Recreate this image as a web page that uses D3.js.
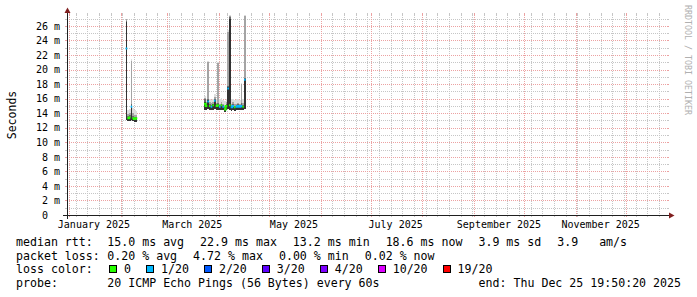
<!DOCTYPE html>
<html>
<head>
<meta charset="utf-8">
<script src="https://cdn.jsdelivr.net/npm/d3@7"></script>
<style>
  html, body { margin: 0; padding: 0; background: #fff; }
  svg { display: block; }
  text { font-family: "DejaVu Sans Mono", monospace; white-space: pre; }
</style>
</head>
<body>
<svg id="chart" width="697" height="297"></svg>
<script>
// graph window (smokeping "last 360 days")
const endTime = "2025-12-25T19:50:20";
const spanDays = 360;
const yMax = 27.5;                       // ms
const yTicks = d3.range(0, 27, 2);       // labelled every 2 ms
const yMinorTicks = d3.range(1, 28, 2);

// per-day samples: median rtt (ms), lost pings of 20, smoke bands (ms)
const days = [
  "2025-02-04", "2025-02-05", "2025-02-06", "2025-02-07", "2025-02-08", "2025-02-09", "2025-02-10",
  "2025-03-23", "2025-03-24", "2025-03-25", "2025-03-26", "2025-03-27", "2025-03-28", "2025-03-29",
  "2025-03-30", "2025-03-31", "2025-04-01", "2025-04-02", "2025-04-03", "2025-04-04", "2025-04-05",
  "2025-04-06", "2025-04-07", "2025-04-08", "2025-04-09", "2025-04-10", "2025-04-11", "2025-04-12",
  "2025-04-13", "2025-04-14", "2025-04-15", "2025-04-16"
];
const median = [
  22.9, 13.3, 13.4, 14.9, 13.3, 13.2, 13.3,
  15.3, 15.0, 15.6, 15.0, 14.9, 15.1, 15.7,
  15.0, 15.1, 14.9, 15.1, 14.9, 14.5, 15.0,
  17.4, 15.1, 14.8, 15.0, 14.8, 14.9, 15.0,
  14.9, 15.0, 14.9, 18.6
];
const loss = [
  1, 0, 0, 1, 0, 0, 0,
  0, 0, 1, 0, 1, 0, 1,
  0, 0, 1, 0, 1, 0, 0,
  1, 0, 1, 1, 0, 1, 1,
  1, 1, 0, 1
];
const smokeLo = [
  13.1, 12.9, 12.9, 13.0, 12.9, 12.8, 12.8,
  14.5, 14.5, 14.6, 14.5, 14.4, 14.5, 14.6,
  14.5, 14.5, 14.4, 14.5, 14.4, 14.2, 14.4,
  14.6, 14.5, 14.3, 14.4, 14.3, 14.4, 14.4,
  14.4, 14.4, 14.4, 14.6
];
// upper edge of each smoke band, outermost (lightest) first
const smoke1 = [
  27.0, 14.5, 14.6, 21.4, 14.7, 14.4, 14.3,
  16.3, 16.0, 21.2, 15.9, 15.8, 16.0, 16.6,
  15.9, 21.1, 15.9, 16.1, 15.8, 15.7, 16.0,
  25.4, 27.5, 15.9, 16.0, 15.8, 15.9, 16.0,
  15.8, 18.2, 16.0, 27.5
];
const smoke2 = [
  26.9, 13.9, 14.0, 21.2, 14.0, 13.8, 13.8,
  16.1, 15.6, 21.0, 15.5, 15.4, 15.5, 16.2,
  15.4, 20.9, 15.3, 15.5, 15.3, 15.0, 15.5,
  25.2, 27.4, 15.3, 15.5, 15.3, 15.3, 15.4,
  15.3, 18.0, 15.4, 27.3
];
const smoke3 = [
  26.7, 13.6, 13.7, 15.2, 13.6, 13.5, 13.5,
  15.9, 15.3, 16.0, 15.2, 15.1, 15.3, 15.9,
  15.2, 15.4, 15.1, 15.3, 15.1, 14.8, 15.2,
  17.8, 27.2, 15.0, 15.2, 15.0, 15.1, 15.2,
  15.1, 15.4, 15.1, 18.9
];
const smoke4 = [
  26.5, 13.4, 13.5, 15.0, 13.4, 13.3, 13.35,
  15.6, 15.1, 15.8, 15.1, 15.0, 15.2, 15.8,
  15.1, 15.2, 15.0, 15.2, 15.0, 14.6, 15.1,
  17.6, 27.0, 14.9, 15.1, 14.9, 15.0, 15.1,
  15.0, 15.1, 15.0, 18.7
];
const smokeGreys = ["#dddddd", "#a4a4a4", "#6b6b6b", "#323232"];

// loss colour legend
const lossLevels = [0, 1, 2, 3, 4, 10, 19];
const lossNames = ["0", "1/20", "2/20", "3/20", "4/20", "10/20", "19/20"];
const lossColors = ["#26ff00", "#00b8ff", "#0059ff", "#5e00ff", "#7e00ff", "#dd00ff", "#ff0000"];

// legend texts
const rttStats = ["15.0 ms avg", "22.9 ms max", "13.2 ms min", "18.6 ms now", "3.9 ms sd", "3.9   am/s"];
const lossStats = ["0.20 % avg", "4.72 % max", "0.00 % min", "0.02 % now"];
const probeText = "20 ICMP Echo Pings (56 Bytes) every 60s";
const endText = "end: Thu Dec 25 19:50:20 2025";

// layout
const x0 = 67, x1 = 667, yBottom = 215, yTop = 15;
const gridColor = "#c6c6c6", mgridColor = "#eca2a2";
const axisColor = "#1f1f1f", arrowColor = "#801f1f";

const svg = d3.select("#chart");
const parseTime = d3.utcParse("%Y-%m-%dT%H:%M:%S");
const parseDay = d3.utcParse("%Y-%m-%d");
const tEnd = parseTime(endTime);
const tStart = d3.utcDay.offset(tEnd, -spanDays);

const x = d3.scaleUtc().domain([tStart, tEnd]).range([x0, x1]);
const y = d3.scaleLinear().domain([0, yMax]).range([yBottom, yTop]);
const px = v => Math.round(v) + 0.5;

svg.append("rect").attr("width", 697).attr("height", 297).attr("fill", "#fff");

// ---- grid ----
const grid = svg.append("g").attr("shape-rendering", "crispEdges").attr("stroke-width", 1);

function hLine(v, color) {
  const yy = px(y(v));
  grid.append("line").attr("x1", x0 - 2).attr("x2", x0).attr("y1", yy).attr("y2", yy).attr("stroke", color);
  grid.append("line").attr("x1", x1).attr("x2", x1 + 2).attr("y1", yy).attr("y2", yy).attr("stroke", color);
  grid.append("line").attr("x1", x0).attr("x2", x1).attr("y1", yy).attr("y2", yy)
    .attr("stroke", color).attr("stroke-dasharray", "1,1");
}
function vLine(t, color) {
  const xx = px(x(t));
  grid.append("line").attr("x1", xx).attr("x2", xx).attr("y1", yTop - 2).attr("y2", yTop).attr("stroke", color);
  grid.append("line").attr("x1", xx).attr("x2", xx).attr("y1", yBottom).attr("y2", yBottom + 2).attr("stroke", color);
  grid.append("line").attr("x1", xx).attr("x2", xx).attr("y1", yTop).attr("y2", yBottom)
    .attr("stroke", color).attr("stroke-dasharray", "1,1");
}

const months = d3.utcMonth.range(tStart, tEnd);
const monthKeys = new Set(months.map(m => +m));
d3.utcSunday.range(tStart, tEnd).filter(s => !monthKeys.has(+s)).forEach(s => vLine(s, gridColor));
yMinorTicks.forEach(v => hLine(v, gridColor));
months.forEach(m => vLine(m, mgridColor));
yTicks.filter(v => v > 0).forEach(v => hLine(v, mgridColor));

// ---- smoke ----
const points = days.map((d, i) => ({
  t: parseDay(d), m: median[i], loss: loss[i], lo: smokeLo[i],
  bands: [smoke1[i], smoke2[i], smoke3[i], smoke4[i]]
}));

const smoke = svg.append("g").attr("shape-rendering", "crispEdges");
smokeGreys.forEach((grey, k) => {
  smoke.selectAll(null)
    .data(points)
    .join("rect")
    .attr("x", d => x(d.t))
    .attr("width", d => x(d3.utcDay.offset(d.t, 1)) - x(d.t))
    .attr("y", d => y(d.bands[k]))
    .attr("height", d => y(d.lo) - y(d.bands[k]))
    .attr("fill", grey);
});

// ---- median, coloured by loss ----
const medianLine = d3.line()
  .defined(v => v !== null)
  .x(v => x(v[0]))
  .y(v => y(v[1]));

lossLevels.forEach((lv, li) => {
  const verts = [];
  points.forEach((p, i) => {
    if (p.loss !== lv) { verts.push(null); return; }
    const prev = points[i - 1];
    if (!prev || prev.loss !== lv || +d3.utcDay.offset(prev.t, 1) !== +p.t) verts.push(null);
    verts.push([p.t, p.m], [d3.utcDay.offset(p.t, 1), p.m]);
  });
  if (!verts.some(v => v)) return;
  svg.append("path")
    .attr("d", medianLine(verts))
    .attr("fill", "none")
    .attr("stroke", lossColors[li])
    .attr("stroke-width", 2);
});

// ---- axes ----
const axisG = svg.append("g").attr("shape-rendering", "crispEdges");
axisG.append("line").attr("x1", x0 - 4).attr("x2", x1 + 4)
  .attr("y1", yBottom + 0.5).attr("y2", yBottom + 0.5).attr("stroke", axisColor);
axisG.append("line").attr("x1", x0 + 0.5).attr("x2", x0 + 0.5)
  .attr("y1", yBottom + 4).attr("y2", yTop - 4).attr("stroke", axisColor);

svg.append("path")
  .attr("d", `M${x1 + 2},${yBottom + 3.5}L${x1 + 2},${yBottom - 2.5}L${x1 + 7.5},${yBottom + 0.5}Z`)
  .attr("fill", arrowColor);
svg.append("path")
  .attr("d", `M${x0 - 2.5},${yTop - 2}L${x0 + 3.5},${yTop - 2}L${x0 + 0.5},${yTop - 7.5}Z`)
  .attr("fill", arrowColor);

const yAxis = d3.axisLeft(y)
  .tickValues(yTicks)
  .tickSize(0)
  .tickPadding(7)
  .tickFormat(v => v === 0 ? "0  " : `${v} m`);
svg.append("g")
  .attr("transform", `translate(${x0},0)`)
  .call(yAxis)
  .call(g => g.select(".domain").remove())
  .attr("font-family", "DejaVu Sans Mono")
  .attr("font-size", 10)
  .selectAll("text").attr("fill", "#000");

const labelMonths = d3.utcMonth.every(2).range(tStart, tEnd);
const xAxis = d3.axisBottom(x)
  .tickValues(labelMonths)
  .tickSize(0)
  .tickPadding(6)
  .tickFormat(d3.utcFormat("%B %Y"));
svg.append("g")
  .attr("transform", `translate(0,${yBottom})`)
  .call(xAxis)
  .call(g => g.select(".domain").remove())
  .attr("font-family", "DejaVu Sans Mono")
  .attr("font-size", 10)
  .selectAll("text")
  .attr("fill", "#000")
  .attr("x", d => x(d3.utcDay.offset(d, 15)) - x(d) - 0.5);

// axis title and watermark
svg.append("text")
  .attr("transform", `translate(15.5,${(yTop + yBottom) / 2}) rotate(-90)`)
  .attr("text-anchor", "middle")
  .attr("font-size", 11.5)
  .attr("fill", "#000")
  .text("Seconds");

svg.append("text")
  .attr("transform", "translate(684.5,5) rotate(90)")
  .attr("font-size", 8.3)
  .attr("fill", "#b0b0b0")
  .text("RRDTOOL / TOBI OETIKER");

// ---- legend ----
const legend = svg.append("g").attr("font-size", 11.6).attr("fill", "#000");
const legendX = 16, valueX = 107.3, gap = 16;
const rowY = [245.7, 259.5, 273.3, 287.2];

function textRow(label, items, yy) {
  legend.append("text").attr("x", legendX).attr("y", yy).text(label);
  let xx = valueX;
  items.forEach(s => {
    const t = legend.append("text").attr("x", xx).attr("y", yy).text(s);
    xx += t.node().getComputedTextLength() + gap;
  });
}
textRow("median rtt:", rttStats, rowY[0]);
textRow("packet loss:", lossStats, rowY[1]);

legend.append("text").attr("x", legendX).attr("y", rowY[2]).text("loss color:");
let lx = 109;
lossNames.forEach((name, i) => {
  legend.append("rect")
    .attr("x", lx + 0.5).attr("y", rowY[2] - 7.8)
    .attr("width", 7).attr("height", 7)
    .attr("fill", lossColors[i]).attr("stroke", "#000").attr("stroke-width", 1)
    .attr("shape-rendering", "crispEdges");
  const t = legend.append("text").attr("x", lx + 15).attr("y", rowY[2]).text(name);
  lx += 15 + t.node().getComputedTextLength() + 15;
});

legend.append("text").attr("x", legendX).attr("y", rowY[3]).text("probe:");
legend.append("text").attr("x", valueX).attr("y", rowY[3]).text(probeText);
legend.append("text").attr("x", 681).attr("y", rowY[3]).attr("text-anchor", "end").text(endText);
</script>
</body>
</html>
